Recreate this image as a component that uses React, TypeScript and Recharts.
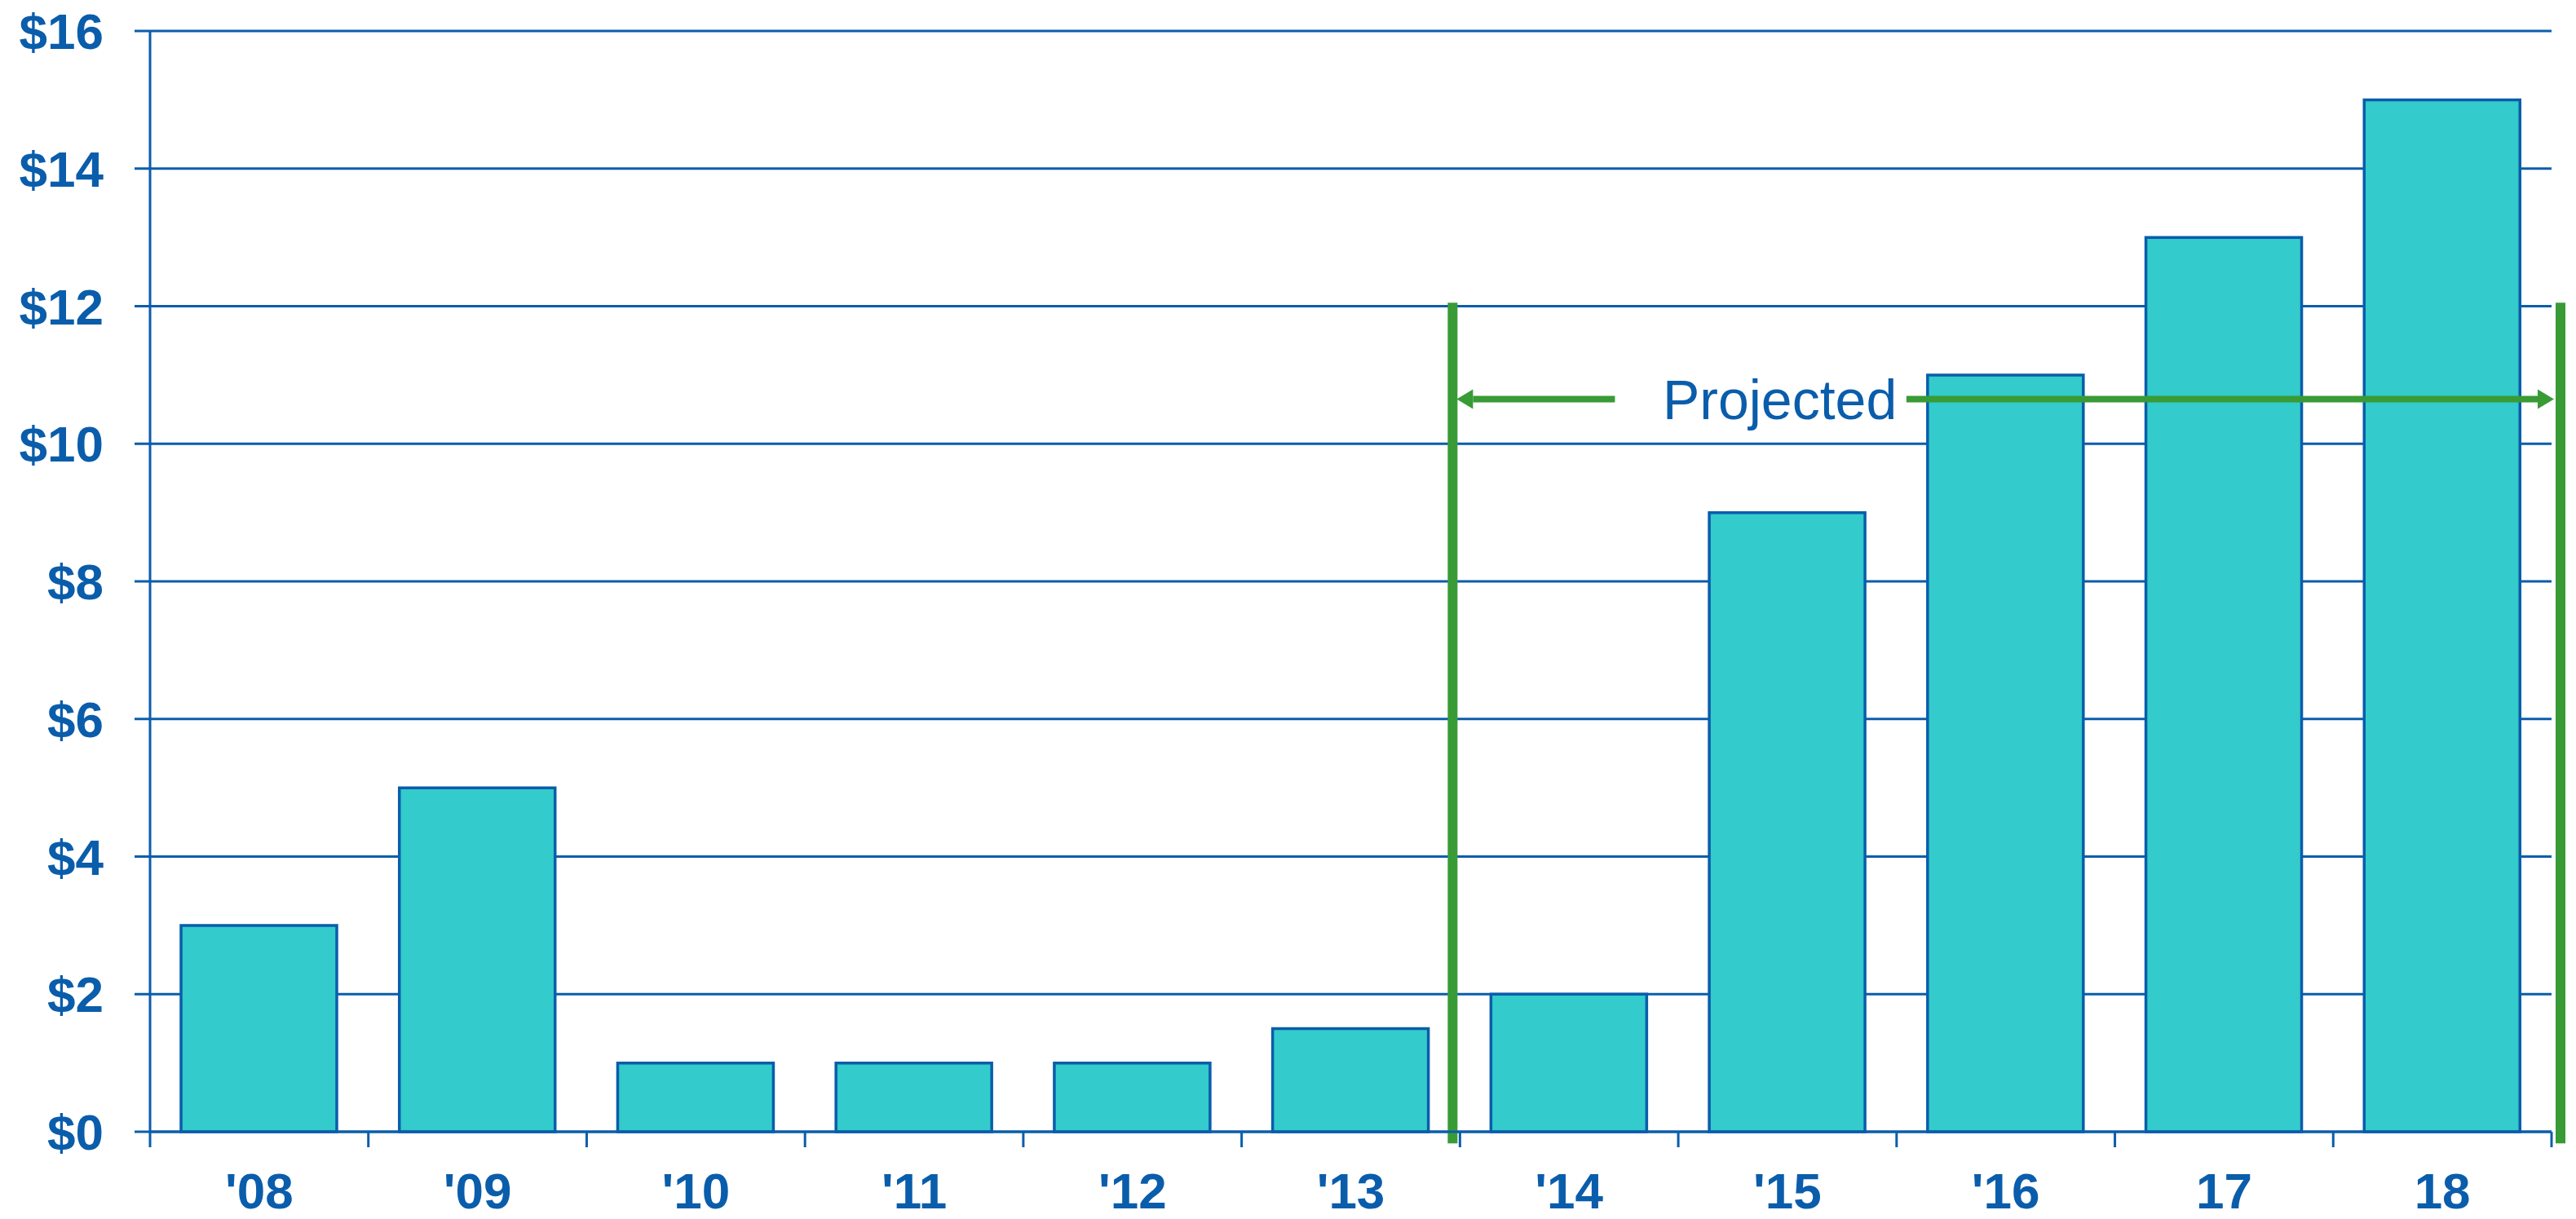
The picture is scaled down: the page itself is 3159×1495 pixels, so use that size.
import React from "react";
import { BarChart, Bar, XAxis, YAxis, CartesianGrid, ReferenceLine } from "recharts";

const categories = ["'08", "'09", "'10", "'11", "'12", "'13", "'14", "'15", "'16", "17", "18"];
const values = [3, 5, 1, 1, 1, 1.5, 2, 9, 11, 13, 15];
const yTicks = [0, 2, 4, 6, 8, 10, 12, 14, 16];
const annotationText = "Projected";
// projection bracket: from start of first projected category to end of last category
const projectedFirst = "'14";
const projectedLast = "18";
const projectedLineTop = 12.05;
const projectedLineBottom = -0.17;
const arrowY = 10.65;

const data = categories.map((c, i) => ({ name: c, value: values[i] }));

const BLUE = "#0A5DAB";
const GREEN = "#389B35";
const TEAL = "#33CBCB";
const FONT = "'Liberation Sans', Arial, sans-serif";

const XTick = (props: any) => {
  const { x, y, payload, index, visibleTicksCount, width } = props;
  const half = (payload && payload.offset) || width / visibleTicksCount / 2;
  const isLast = index === visibleTicksCount - 1;
  return (
    <g>
      <line x1={x - half} y1={y} x2={x - half} y2={y + 19} stroke={BLUE} strokeWidth={3} />
      {isLast && <line x1={x + half} y1={y} x2={x + half} y2={y + 19} stroke={BLUE} strokeWidth={3} />}
      <text
        x={x}
        y={y + 50}
        dy="0.71em"
        textAnchor="middle"
        fill={BLUE}
        fontSize={62}
        fontWeight="bold"
        fontFamily={FONT}
      >
        {payload.value}
      </text>
    </g>
  );
};

const projectionShape = (props: any) => {
  const { x1, y1, x2, y2 } = props;
  // x1: start of first projected band; x2: start of last band
  const nBands = categories.indexOf(projectedLast) - categories.indexOf(projectedFirst);
  const band = (x2 - x1) / nBands;
  const end = x2 + band;
  const ay = y1 + ((y2 - y1) * (projectedLineTop - arrowY)) / (projectedLineTop - projectedLineBottom);
  const leftX = x1 - 9;
  const rightX = end + 11;
  const head = 20;
  const half = 12;
  const lTip = leftX + 5;
  const lTail = x1 + 0.71 * band;
  const textX = x1 + 1.465 * band;
  const rTail = x1 + 2.045 * band;
  const rTip = rightX - 8;
  return (
    <g>
      <line x1={leftX} y1={y1} x2={leftX} y2={y2} stroke={GREEN} strokeWidth={12} />
      <line x1={rightX} y1={y1} x2={rightX} y2={y2} stroke={GREEN} strokeWidth={12} />
      <line x1={lTail} y1={ay} x2={lTip + head} y2={ay} stroke={GREEN} strokeWidth={8} />
      <polygon points={`${lTip},${ay} ${lTip + head},${ay - half} ${lTip + head},${ay + half}`} fill={GREEN} />
      <line x1={rTail} y1={ay} x2={rTip - head} y2={ay} stroke={GREEN} strokeWidth={8} />
      <polygon points={`${rTip},${ay} ${rTip - head},${ay - half} ${rTip - head},${ay + half}`} fill={GREEN} />
      <text x={textX} y={ay} dy="0.355em" textAnchor="middle" fill={BLUE} fontSize={68} fontFamily={FONT}>
        {annotationText}
      </text>
    </g>
  );
};

export default function App() {
  return (
    <div style={{ width: 3159, height: 1495, background: "#fff" }}>
      <style>{`body{margin:0}`}</style>
      <BarChart
        width={3159}
        height={1495}
        data={data}
        margin={{ top: 38, right: 30, bottom: 0, left: 0 }}
      >
        <CartesianGrid vertical={false} stroke={BLUE} strokeWidth={3} />
        <XAxis
          dataKey="name"
          height={107}
          tickLine={false}
          tickSize={0}
          tickMargin={0}
          axisLine={{ stroke: BLUE, strokeWidth: 3 }}
          interval={0}
          tick={<XTick />}
        />
        <YAxis
          domain={[0, 16]}
          ticks={yTicks}
          width={184}
          tickSize={19}
          tickMargin={38}
          tickFormatter={(v: number) => `$${v}`}
          axisLine={{ stroke: BLUE, strokeWidth: 3 }}
          tickLine={{ stroke: BLUE, strokeWidth: 3 }}
          tick={{ fill: BLUE, fontSize: 62, fontWeight: "bold", fontFamily: FONT }}
          interval={0}
        />
        <YAxis
          yAxisId="r"
          orientation="right"
          domain={[0, 16]}
          width={0}
          tick={false}
          tickLine={false}
          axisLine={{ stroke: BLUE, strokeWidth: 3 }}
        />
        <Bar
          dataKey="value"
          fill={TEAL}
          stroke={BLUE}
          strokeWidth={3.5}
          barSize={191}
          isAnimationActive={false}
        />
        <ReferenceLine
          ifOverflow="visible"
          position="start"
          segment={[
            { x: projectedFirst, y: projectedLineTop },
            { x: projectedLast, y: projectedLineBottom },
          ]}
          shape={projectionShape}
        />
      </BarChart>
    </div>
  );
}
